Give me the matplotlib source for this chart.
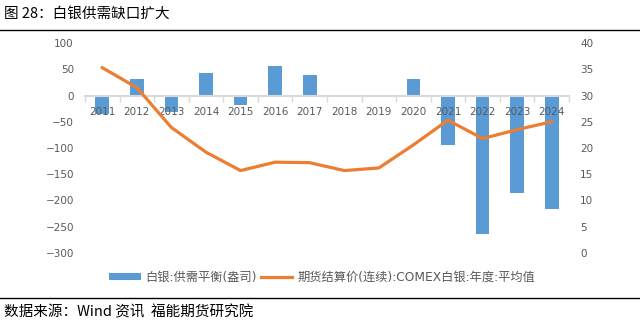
import matplotlib.pyplot as plt
import numpy as np

plt.rcParams['font.family'] = ['Noto Sans CJK SC', 'DejaVu Sans']

years = ['2011', '2012', '2013', '2014', '2015', '2016', '2017',
         '2018', '2019', '2020', '2021', '2022', '2023', '2024']
balance = [-36, 31, -32, 42, -18, 56, 40, 0, -2, 31, -95, -263, -185, -216]  # 百万盎司
price = [35.3, 31.5, 23.9, 19.2, 15.7, 17.3, 17.2, 15.7, 16.2, 20.6, 25.3, 21.8, 23.5, 25.0]

bar_label = '白银:供需平衡(盎司)'
line_label = '期货结算价(连续):COMEX白银:年度:平均值'
tick_color = '#595959'
num_font = ['DejaVu Sans', 'Noto Sans CJK SC']

fig = plt.figure(figsize=(6.4, 3.28), dpi=100)
ax = fig.add_axes([85/640, 1-253/328, 484/640, 210/328])
ax2 = ax.twinx()

x = np.arange(len(years))
ax.bar(x, balance, width=0.4, color='#5B9BD5', label=bar_label, zorder=1)
ax2.plot(x, price, color='#ED7D31', lw=2.3, label=line_label)

ax.set_xlim(-0.5, len(years)-0.5)
ax.set_ylim(-300, 100)
ax.set_yticks(range(-300, 101, 50))
ax2.set_ylim(0, 40)
ax2.set_yticks(range(0, 41, 5))

# x轴放在0的位置
ax.spines['bottom'].set_position(('data', 0))
ax.spines['bottom'].set_color('#d9d9d9')
ax.spines['bottom'].set_linewidth(1.5)
for sp in ['top', 'left', 'right']:
    ax.spines[sp].set_visible(False)
for sp in ['top', 'left', 'right', 'bottom']:
    ax2.spines[sp].set_visible(False)

ax.set_xticks(x)
ax.set_xticklabels(years)
ax.set_xticks(np.arange(-0.5, len(years), 1), minor=True)
ax.tick_params(axis='x', which='major', length=0, pad=8, labelsize=7.5, labelcolor=tick_color)
ax.tick_params(axis='x', which='minor', length=4, width=1, color='#d9d9d9')
ax.tick_params(axis='y', length=0, pad=8, labelsize=7.5, labelcolor=tick_color)
ax2.tick_params(axis='y', length=0, pad=8, labelsize=7.5, labelcolor=tick_color)
for lab in ax.get_xticklabels() + ax.get_yticklabels() + ax2.get_yticklabels():
    lab.set_family(num_font)

h1, l1 = ax.get_legend_handles_labels()
h2, l2 = ax2.get_legend_handles_labels()
fig.legend(h1 + h2, l1 + l2, loc='center', bbox_to_anchor=(322/640, 1-277/328), ncol=2,
           frameon=False, prop={'family': num_font, 'size': 8.8}, handlelength=2.6,
           handleheight=0.5, columnspacing=0.3, handletextpad=0.4, labelcolor=tick_color)

fig.text(4/640, 1-14/328, '图 28：白银供需缺口扩大', fontsize=10.5, va='center', ha='left')
fig.add_artist(plt.Line2D([0, 1], [1-30/328, 1-30/328], color='black', lw=1))
fig.add_artist(plt.Line2D([0, 1], [1-298/328, 1-298/328], color='black', lw=1))
fig.text(4/640, 1-312/328, '数据来源：Wind 资讯  福能期货研究院', fontsize=10.5, va='center', ha='left')

fig.savefig('out.png', dpi=100)
